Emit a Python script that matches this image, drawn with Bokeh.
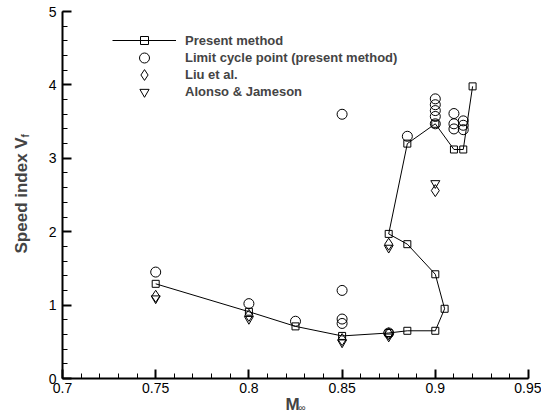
from math import pi
from bokeh.plotting import figure
from bokeh.models import (Range1d, FixedTicker, NumeralTickFormatter, Legend,
                          LegendItem, Label)
from bokeh.embed import file_html
from bokeh.resources import INLINE

# ---- data ----
present_x = [0.75, 0.8, 0.825, 0.85, 0.875, 0.885, 0.9, 0.905, 0.9, 0.885,
             0.875, 0.885, 0.9, 0.91, 0.915, 0.92]
present_y = [1.29, 0.91, 0.71, 0.58, 0.62, 0.65, 0.65, 0.95, 1.42, 1.83,
             1.97, 3.20, 3.47, 3.12, 3.12, 3.98]

limit_x = [0.75, 0.8, 0.825, 0.85, 0.85, 0.85, 0.85, 0.875, 0.885,
           0.9, 0.9, 0.9, 0.9, 0.9, 0.91, 0.91, 0.91, 0.915, 0.915, 0.915]
limit_y = [1.45, 1.02, 0.78, 3.60, 1.20, 0.81, 0.75, 0.62, 3.30,
           3.47, 3.57, 3.65, 3.73, 3.81, 3.61, 3.47, 3.40, 3.51, 3.45, 3.39]

liu_x = [0.75, 0.8, 0.85, 0.875, 0.875, 0.9]
liu_y = [1.12, 0.86, 0.53, 0.61, 1.83, 2.56]

alonso_x = [0.75, 0.8, 0.85, 0.875, 0.875, 0.9]
alonso_y = [1.09, 0.81, 0.49, 0.57, 1.78, 2.66]

x_ticks = [0.7, 0.75, 0.8, 0.85, 0.9, 0.95]
y_ticks = [0, 1, 2, 3, 4, 5]

legend_labels = ["Present method", "Limit cycle point (present method)",
                 "Liu et al.", "Alonso & Jameson"]

FONT = "Liberation Sans"

p = figure(width=541, height=413, x_range=Range1d(0.7, 0.95),
           y_range=Range1d(0, 5), output_backend="svg", toolbar_location=None,
           min_border_left=62, min_border_right=13, min_border_top=11,
           min_border_bottom=35)
p.outline_line_color = None
p.xgrid.visible = False
p.ygrid.visible = False
p.background_fill_color = "white"
p.border_fill_color = "white"

p.xaxis.ticker = FixedTicker(ticks=x_ticks,
                             minor_ticks=[round(0.7 + 0.01 * i, 2) for i in range(26)])
p.yaxis.ticker = FixedTicker(ticks=y_ticks,
                             minor_ticks=[round(0.2 * i, 1) for i in range(26)])
p.xaxis.formatter = NumeralTickFormatter(format="0.[00]")
p.yaxis.formatter = NumeralTickFormatter(format="0")

for ax in (p.xaxis, p.yaxis):
    ax.axis_line_width = 2
    ax.axis_line_color = "black"
    ax.major_tick_in = 9
    ax.major_tick_out = 0
    ax.minor_tick_in = 5
    ax.minor_tick_out = 0
    ax.major_tick_line_width = 2
    ax.minor_tick_line_width = 1
    ax.major_tick_line_color = "black"
    ax.minor_tick_line_color = "black"
    ax.major_label_text_font = FONT
    ax.major_label_text_font_size = "14px"
    ax.major_label_text_color = "black"
p.xaxis.major_label_standoff = 4
p.yaxis.major_label_standoff = 6

line_r = p.line(present_x, present_y, line_color="black", line_width=1)
sq_r = p.scatter(present_x, present_y, marker="square", size=7,
                 line_color="black", fill_alpha=0, line_width=1)
circ_r = p.scatter(limit_x, limit_y, marker="circle", size=10,
                   line_color="black", fill_alpha=0, line_width=1)
dia_r = p.scatter(liu_x, liu_y, marker="diamond", size=12,
                  line_color="black", fill_alpha=0, line_width=1)
tri_r = p.scatter(alonso_x, alonso_y, marker="inverted_triangle", size=9,
                  line_color="black", fill_alpha=0, line_width=1)

# one small legend per row so that markers keep a readable size
row_renderers = [[line_r, sq_r], [circ_r], [dia_r], [tri_r]]
row_bottoms = [325.5, 308.5, 291.5, 274.5]
row_glyph_h = [20, 25, 27, 23]
for lab, rends, yb, gh in zip(legend_labels, row_renderers, row_bottoms, row_glyph_h):
    lg = Legend(items=[LegendItem(label=lab, renderers=rends)],
                location=(50, yb + (25 - gh) / 2), glyph_width=64,
                glyph_height=gh, label_height=gh, label_standoff=9, spacing=0,
                padding=0, margin=0, border_line_alpha=0,
                background_fill_alpha=0, label_text_font=FONT,
                label_text_font_style="bold", label_text_font_size="13px")
    p.add_layout(lg)

# axis titles with subscripts (canvas pixel positions, placed in side panels)
p.add_layout(Label(x=21, y=253, x_units="canvas", y_units="canvas",
                   text="Speed index V", angle=pi / 2, text_font=FONT,
                   text_font_style="bold", text_font_size="17px",
                   text_align="left", text_baseline="alphabetic"), "left")
p.add_layout(Label(x=285, y=404, x_units="canvas", y_units="canvas",
                   text="M", text_font=FONT, text_font_style="bold",
                   text_font_size="17px", text_align="left",
                   text_baseline="alphabetic"), "left")
p.add_layout(Label(x=25, y=137, x_units="canvas", y_units="canvas",
                   text="f", angle=pi / 2, text_font=FONT,
                   text_font_style="bold", text_font_size="10px",
                   text_align="left", text_baseline="alphabetic"), "right")
p.add_layout(Label(x=298, y=407, x_units="canvas", y_units="canvas",
                   text="∞", text_font=FONT, text_font_style="normal",
                   text_font_size="10px", text_align="left",
                   text_baseline="alphabetic"), "above")

open("out.html", "w").write(file_html(p, INLINE))
